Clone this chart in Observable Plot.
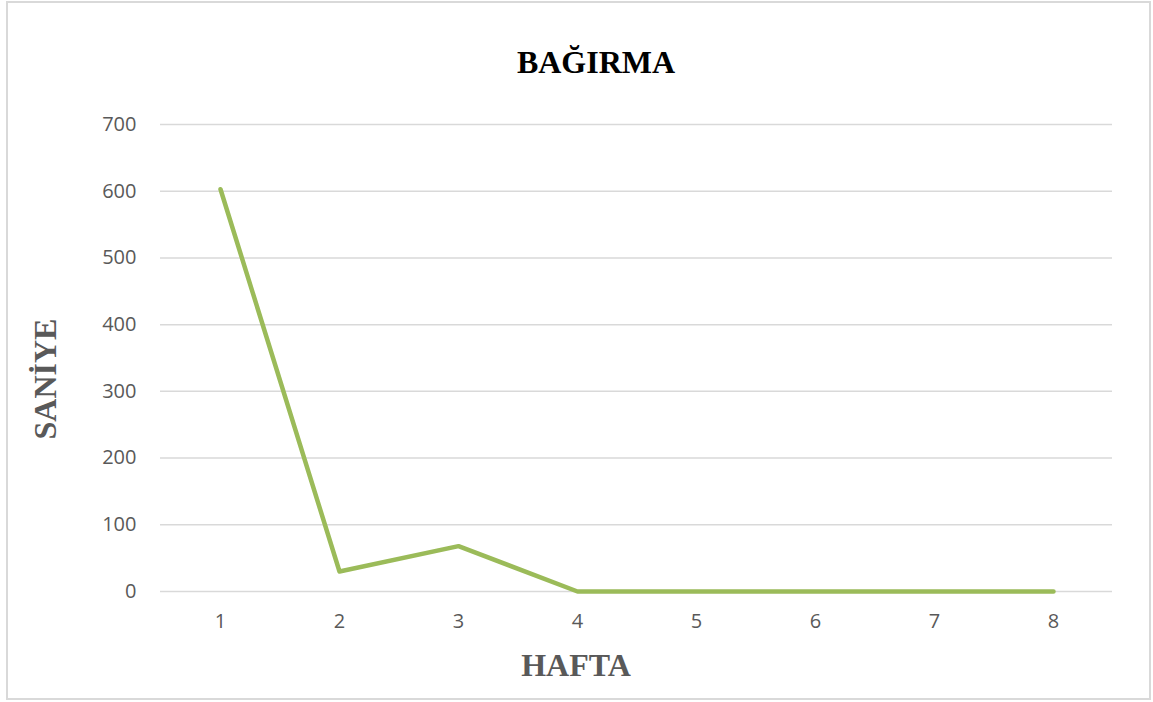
<!DOCTYPE html>
<html>
<head>
<meta charset="utf-8">
<script src="https://cdn.jsdelivr.net/npm/d3@7"></script>
<script src="https://cdn.jsdelivr.net/npm/@observablehq/plot@0.6"></script>
<style>
  body { margin: 0; background: #fff; }
  #wrap { position: relative; width: 1153px; height: 702px; overflow: hidden; }
  #frame { position: absolute; left: 6px; top: 1px; width: 1141px; height: 695px; border: 2px solid #d9d9d9; pointer-events: none; }
  .t { position: absolute; font-family: "Liberation Serif", "Times New Roman", serif; font-weight: bold; white-space: nowrap; }
  #title { left: 596px; top: 62px; transform: translate(-50%, -50%); font-size: 32px; color: #000; }
  #xlab { left: 576px; top: 665px; transform: translate(-50%, -50%); font-size: 32px; color: #595959; }
  #ylab { left: 45px; top: 379px; transform: translate(-50%, -50%) rotate(-90deg); font-size: 32px; color: #595959; }
</style>
</head>
<body>
<div id="wrap">
  <div id="chart"></div>
  <div id="frame"></div>
  <div class="t" id="title">BAĞIRMA</div>
  <div class="t" id="xlab">HAFTA</div>
  <div class="t" id="ylab">SANİYE</div>
</div>
<script>
const weeks = [1, 2, 3, 4, 5, 6, 7, 8];
const seconds = [603, 30, 68, 0, 0, 0, 0, 0];
const yTicks = [0, 100, 200, 300, 400, 500, 600, 700];

const data = weeks.map((w, i) => ({week: w, value: seconds[i]}));

const chart = Plot.plot({
  width: 1153,
  height: 702,
  marginLeft: 160,
  marginRight: 41,
  marginTop: 124,
  marginBottom: 111,
  style: {fontFamily: "'Open Sans', 'Noto Sans', sans-serif", fontSize: "20px", color: "#595959", background: "transparent"},
  x: {type: "point", domain: weeks, padding: 0.5, label: null},
  y: {domain: [0, 700], label: null},
  marks: [
    Plot.gridY(yTicks, {stroke: "#d9d9d9", strokeOpacity: 1, strokeWidth: 1.5}),
    Plot.axisY(yTicks, {tickSize: 0, tickPadding: 24, fontSize: 20, fill: "#595959", label: null}),
    Plot.axisX(weeks, {tickSize: 0, tickPadding: 22, fontSize: 20, fill: "#595959", label: null}),
    Plot.line(data, {x: "week", y: "value", stroke: "#9bbb59", strokeWidth: 4.5, strokeLinecap: "round", strokeLinejoin: "round"})
  ]
});
document.getElementById("chart").appendChild(chart);
</script>
</body>
</html>
